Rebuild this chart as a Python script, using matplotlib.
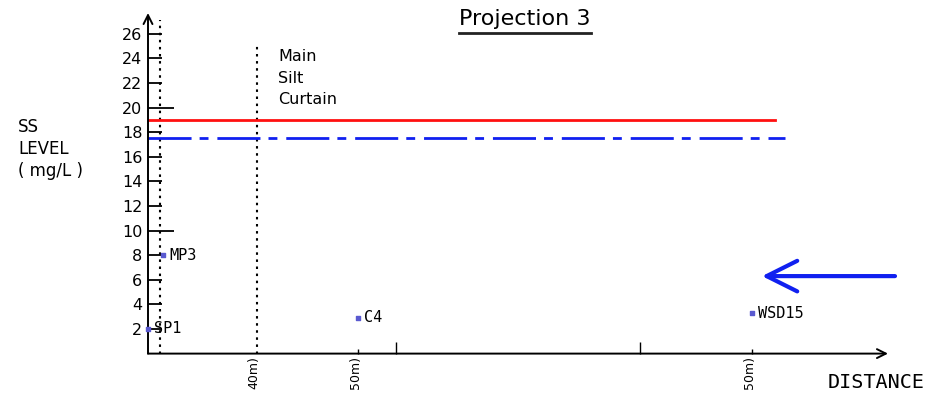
import matplotlib
matplotlib.use("Agg")
import matplotlib.pyplot as plt
from matplotlib.lines import Line2D

# data (x = relative distance units, y = SS level mg/L)
stations = ["SP1", "MP3", "C4", "WSD15"]
station_dist = [0.0, 1.5, 21.0, 60.4]
station_ss = [2.0, 8.0, 2.9, 3.3]

limit_red = 19.0
limit_blue = 17.5
limit_end_red = 62.7
limit_end_blue = 63.7

y_ticks = [2, 4, 6, 8, 10, 12, 14, 16, 18, 20, 22, 24, 26]
long_y_ticks = [10, 20]

x_ticks = [21.0, 24.8, 49.2, 60.4]
long_x_ticks = [24.8, 49.2]

dist_marks = [10.9, 21.0, 60.4]
dist_labels = ["40m)", "50m)", "50m)"]

ref_line_x = 1.2
curtain_x = 10.9

XMAX = 74.0
YMAX = 27.69

fig = plt.figure(figsize=(9.3, 3.93), dpi=100)
ax = fig.add_axes([148 / 930, 39.4 / 393, 740 / 930, 340.6 / 393])
ax.set_xlim(0, XMAX)
ax.set_ylim(0, YMAX)
for s in ax.spines.values():
    s.set_visible(False)

# axes drawn as arrows
arrow = dict(arrowstyle="->", lw=1.4, color="black", mutation_scale=16, shrinkA=0, shrinkB=0)
ax.annotate("", xy=(0, YMAX), xytext=(0, 0), arrowprops=arrow, annotation_clip=False)
ax.annotate("", xy=(XMAX, 0), xytext=(0, 0), arrowprops=arrow, annotation_clip=False)

# y ticks
ax.set_yticks(y_ticks)
ax.tick_params(axis="y", direction="in", length=10, width=1.3, pad=4, labelsize=11.5)
for t, v in zip(ax.yaxis.get_major_ticks(), y_ticks):
    if v in long_y_ticks:
        t.tick1line.set_markersize(19)

# x ticks
ax.set_xticks(x_ticks)
ax.set_xticklabels([])
ax.tick_params(axis="x", direction="in", length=3.5, width=1.0)
for t, v in zip(ax.xaxis.get_major_ticks(), x_ticks):
    if v in long_x_ticks:
        t.tick1line.set_markersize(8.5)

# vertical dotted references
ax.vlines(ref_line_x, 0, YMAX - 0.6, colors="black", linestyles=(0, (1.2, 2.2)), lw=1.5, clip_on=False)
ax.vlines(curtain_x, 0, 25.2, colors="black", linestyles=(0, (1.2, 2.2)), lw=1.5)
ax.text(curtain_x + 2.1, 24.75, "Main\nSilt\nCurtain", fontsize=11.5, va="top", ha="left",
        linespacing=1.55)

# limit lines
ax.plot([0, limit_end_red], [limit_red, limit_red], color="#ff1010", lw=2.0)
ax.plot([0, limit_end_blue], [limit_blue, limit_blue], color="#1020f0", lw=2.0,
        dashes=(15.5, 2.9, 3.2, 3.2))

# stations
ax.scatter(station_dist, station_ss, marker="s", s=9, color="#5a5ad0", zorder=5, clip_on=False)
for name, x, y in zip(stations, station_dist, station_ss):
    ax.annotate(name, xy=(x, y), xytext=(4.5, 0), textcoords="offset points",
                family="DejaVu Sans Mono", fontsize=11, va="center", ha="left")

# distance marks under the axis
for x, lab in zip(dist_marks, dist_labels):
    ax.annotate(lab, xy=(x, 0), xytext=(-2, -2), textcoords="offset points",
                rotation=90, ha="center", va="top", fontsize=9, annotation_clip=False)

# blue pointer arrow
ax.annotate("", xy=(61.4, 6.3), xytext=(74.7, 6.3),
            arrowprops=dict(arrowstyle="->", lw=3, color="#1020f0", mutation_scale=55,
                            shrinkA=0, shrinkB=0),
            annotation_clip=False)

# axis labels
fig.text(18 / 930, 1 - 118 / 393, "SS\nLEVEL\n( mg/L )", fontsize=12, va="top", ha="left",
         linespacing=1.3)
fig.text(828 / 930, 1 - 383 / 393, "DISTANCE", family="DejaVu Sans Mono", fontsize=14.5,
         va="center", ha="left")

# underlined title
title = fig.text(525 / 930, 1 - 19 / 393, "Projection 3", fontsize=16, ha="center", va="center")
fig.canvas.draw()
bb = title.get_window_extent().transformed(fig.transFigure.inverted())
fig.add_artist(Line2D([bb.x0, bb.x1], [1 - 33 / 393] * 2, color="#222222", lw=2,
                      transform=fig.transFigure))

fig.savefig("out.png", dpi=100)
